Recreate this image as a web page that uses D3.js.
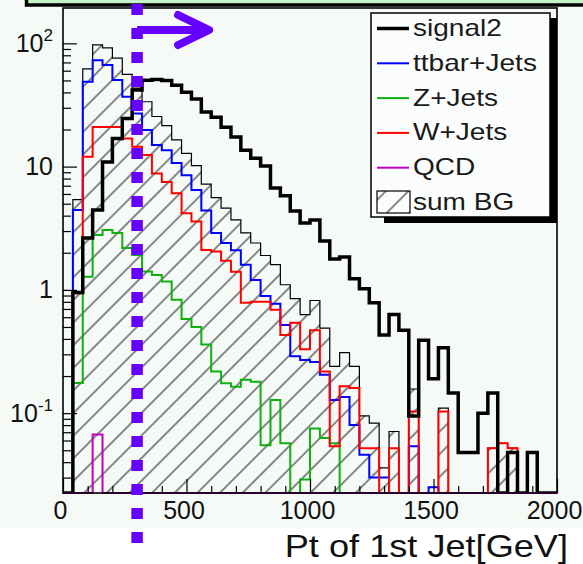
<!DOCTYPE html>
<html>
<head>
<meta charset="utf-8">
<script src="https://cdn.jsdelivr.net/npm/d3@7"></script>
<style>
  body { margin: 0; background: #fff; }
  svg { display: block; }
  text { font-family: "Liberation Sans", Arial, Helvetica, sans-serif; }
</style>
</head>
<body>
<div id="chart"></div>
<script>
// binning: 50 bins of 40 GeV, 0 - 2000
const binWidth = 40;
const xMax = 2000;
const cutPt = 300;

const signal2 = [0, 0.95, 2.64, 4.45, 10.9, 16.9, 24.6, 41.8, 50.3, 51, 50,
  45.8, 40.2, 35.3, 27.7, 25.2, 20.9, 17.4, 13.6, 11.7, 10.1,
  6.7, 5.8, 4.36, 3.49, 3.69, 2.49, 1.78, 1.85, 1.23, 1.02,
  0.785, 0.43, 0.63, 0.47, 0.095, 0.39, 0.19, 0.34, 0.146, 0.048,
  0.048, 0.10, 0.146, 0, 0.048, 0, 0.048, 0, 0];
const ttbarJets = [0, 4.45, 48.7, 73, 66.6, 50.4, 36.8, 27, 19.8, 15,
  13.6, 10.7, 8.5, 6.45, 4.4, 2.9, 2.4, 2.1, 1.6, 1.2,
  0.89, 0.77, 0.52, 0.29, 0.27, 0.26, 0.205, 0.128, 0.135, 0.08,
  0.046, 0.03, 0.03, 0.02, 0, 0.054, 0, 0.025, 0, 0,
  0, 0, 0, 0, 0, 0, 0, 0, 0, 0];
const zJets = [0, 0.176, 1.28, 2.79, 3.06, 2.9, 2.19, 1.92, 1.41, 1.32,
  1.17, 0.83, 0.58, 0.5, 0.36, 0.218, 0.175, 0.164, 0.187, 0.18,
  0.055, 0.128, 0.057, 0, 0.029, 0.075, 0.063, 0.057, 0, 0,
  0, 0, 0, 0, 0, 0, 0, 0, 0, 0,
  0, 0, 0, 0, 0, 0, 0, 0, 0, 0];
const wJets = [0, 0.94, 12.0, 21, 21, 21, 16.9, 14.5, 12.4, 8.8,
  7.5, 6.07, 4.18, 3.58, 2.11, 2.05, 1.72, 1.4, 0.785, 0.8,
  0.8, 0.69, 0.43, 0.54, 0.33, 0.47, 0.218, 0.054, 0.165, 0.16,
  0.052, 0.052, 0, 0.052, 0, 0.103, 0, 0, 0.103, 0,
  0, 0, 0, 0.052, 0.057, 0.052, 0, 0, 0, 0];
const qcd = [0, 0, 0, 0.067, 0, 0, 0, 0, 0, 0,
  0, 0, 0, 0, 0, 0, 0, 0, 0, 0,
  0, 0, 0, 0, 0, 0, 0, 0, 0, 0,
  0, 0, 0, 0, 0, 0, 0, 0, 0, 0,
  0, 0, 0, 0, 0, 0, 0, 0, 0, 0];
const sumBG = [0, 5.4, 62, 97, 92, 76, 56, 43.4, 33.6, 25.5,
  21.5, 16.5, 12.8, 10.2, 7.2, 5.6, 4.6, 3.7, 2.9, 2.4,
  1.9, 1.6, 1.1, 0.85, 0.63, 0.82, 0.49, 0.24, 0.31, 0.24,
  0.095, 0.083, 0.036, 0.071, 0, 0.157, 0, 0.025, 0.11, 0,
  0, 0, 0, 0.052, 0.057, 0.052, 0, 0, 0, 0];

const xMajorTicks = [0, 500, 1000, 1500, 2000];
const yMajorTicks = [0.1, 1, 10, 100];
const yLabels = [['10', '-1'], ['1', ''], ['10', ''], ['10', '2']];
const legendLabels = ['signal2', 'ttbar+Jets', 'Z+Jets', 'W+Jets', 'QCD', 'sum BG'];

const chartWidth = 583;
const chartHeight = 564;
const frameLeft = 63, frameRight = 557, frameTop = 8, frameBottom = 493;
const purple = '#6600ff';

const svg = d3.select('#chart')
  .append('svg')
  .attr('width', chartWidth)
  .attr('height', chartHeight);

// backgrounds
svg.append('rect').attr('width', chartWidth).attr('height', chartHeight).attr('fill', '#ffffff');
svg.append('rect').attr('width', chartWidth).attr('height', 528).attr('fill', '#f5faf6');

// bottom of the title box (cut off at the top)
svg.append('rect')
  .attr('x', 26.5).attr('y', -40)
  .attr('width', 620).attr('height', 45)
  .attr('fill', '#c6f2c6')
  .attr('stroke', '#000')
  .attr('stroke-width', 3.5);

// Scales
const x = d3.scaleLinear().domain([0, xMax]).range([frameLeft, frameRight]);
const yLo = 0.0225;
const y = d3.scaleLog().domain([yLo, 193.5]).range([frameBottom, frameTop]);
const yv = v => (v > yLo ? y(v) : frameBottom);

// hatch pattern for sum BG
const defs = svg.append('defs');
defs.append('pattern')
  .attr('id', 'hatch')
  .attr('patternUnits', 'userSpaceOnUse')
  .attr('width', 16).attr('height', 16)
  .attr('patternTransform', 'rotate(-45)')
  .append('line')
  .attr('x1', 0).attr('x2', 16)
  .attr('y1', 8).attr('y2', 8)
  .attr('stroke', '#2a2a2a')
  .attr('stroke-width', 1.1);

defs.append('clipPath').attr('id', 'frameClip')
  .append('rect')
  .attr('x', frameLeft).attr('y', frameTop - 1)
  .attr('width', frameRight - frameLeft).attr('height', frameBottom - frameTop + 2);

// histogram outline as step line
const stepLine = d3.line()
  .x(d => x(d[0]))
  .y(d => yv(d[1]))
  .curve(d3.curveStepAfter);

function histPoints(vals) {
  const pts = [[0, 0]];
  vals.forEach((v, i) => pts.push([i * binWidth, v]));
  pts.push([vals.length * binWidth, vals[vals.length - 1]]);
  pts.push([vals.length * binWidth, 0]);
  return pts;
}

const plot = svg.append('g').attr('clip-path', 'url(#frameClip)');

const series = [
  { vals: sumBG, color: '#000', width: 1.2, fill: 'url(#hatch)' },
  { vals: ttbarJets, color: '#0000ff', width: 2, fill: 'none' },
  { vals: zJets, color: '#11b011', width: 2, fill: 'none' },
  { vals: wJets, color: '#ff0000', width: 2, fill: 'none' },
  { vals: signal2, color: '#000', width: 3.5, fill: 'none' },
  { vals: qcd, color: '#c000c0', width: 2, fill: 'none' }
];

plot.selectAll('path')
  .data(series)
  .enter()
  .append('path')
  .attr('d', d => stepLine(histPoints(d.vals)))
  .attr('fill', d => d.fill)
  .attr('stroke', d => d.color)
  .attr('stroke-width', d => d.width)
  .attr('stroke-linejoin', 'miter');

// frame
svg.append('rect')
  .attr('x', frameLeft).attr('y', frameTop)
  .attr('width', frameRight - frameLeft).attr('height', frameBottom - frameTop)
  .attr('fill', 'none')
  .attr('stroke', '#000')
  .attr('stroke-width', 1.6);

// X axis (ticks point inwards)
const xMinor = d3.range(100, xMax, 100).filter(v => v % 500 !== 0);
svg.append('g')
  .attr('transform', `translate(0,${frameBottom})`)
  .call(d3.axisBottom(x).tickValues(xMinor).tickSize(-7).tickFormat(''))
  .call(g => g.select('.domain').remove());
const xAxisG = svg.append('g')
  .attr('transform', `translate(0,${frameBottom})`)
  .call(d3.axisBottom(x).tickValues(xMajorTicks).tickSize(-14).tickPadding(8).tickFormat(d3.format('d')))
  .call(g => g.select('.domain').remove());
xAxisG.selectAll('text')
  .attr('dx', -3)
  .attr('font-size', 25)
  .attr('fill', '#111')
  .style('font-family', '"Liberation Sans", Arial, sans-serif');

// Y axis (log)
const yMinor = [];
[-2, -1, 0, 1, 2].forEach(e => {
  for (let k = 2; k <= 9; k++) {
    const v = k * Math.pow(10, e);
    if (v > yLo && v < 193.5) yMinor.push(v);
  }
});
svg.append('g')
  .attr('transform', `translate(${frameLeft},0)`)
  .call(d3.axisLeft(y).tickValues(yMinor).tickSize(-8).tickFormat(''))
  .call(g => g.select('.domain').remove());
const yAxisG = svg.append('g')
  .attr('transform', `translate(${frameLeft},0)`)
  .call(d3.axisLeft(y).tickValues(yMajorTicks).tickSize(-14).tickPadding(10))
  .call(g => g.select('.domain').remove());
yAxisG.selectAll('text')
  .attr('font-size', 25)
  .attr('fill', '#111')
  .style('font-family', '"Liberation Sans", Arial, sans-serif')
  .each(function (d, i) {
    const t = d3.select(this);
    t.text(null);
    t.append('tspan').text(yLabels[i][0]);
    if (yLabels[i][1]) {
      t.append('tspan')
        .attr('font-size', 17)
        .attr('dy', -11)
        .text(yLabels[i][1]);
    }
  });

svg.selectAll('.tick line').attr('stroke', '#000').attr('stroke-width', 1.2);

// cut line at 300 GeV and arrow
svg.append('line')
  .attr('x1', x(cutPt)).attr('x2', x(cutPt))
  .attr('y1', 4).attr('y2', 544)
  .attr('stroke', purple)
  .attr('stroke-width', 11.5)
  .attr('stroke-dasharray', '11,13');

const arrowEnd = x(cutPt) + 72;
svg.append('line')
  .attr('x1', x(cutPt)).attr('x2', arrowEnd - 2)
  .attr('y1', 30).attr('y2', 30)
  .attr('stroke', purple)
  .attr('stroke-width', 8);
svg.append('polyline')
  .attr('points', `${arrowEnd - 31},15 ${arrowEnd},30 ${arrowEnd - 31},45`)
  .attr('fill', 'none')
  .attr('stroke', purple)
  .attr('stroke-width', 8)
  .attr('stroke-linecap', 'round')
  .attr('stroke-linejoin', 'round');

// Legend
const legend = svg.append('g');
legend.append('rect')
  .attr('x', 550).attr('y', 18)
  .attr('width', 7).attr('height', 205)
  .attr('fill', '#000');
legend.append('rect')
  .attr('x', 384).attr('y', 217)
  .attr('width', 173).attr('height', 6)
  .attr('fill', '#000');
legend.append('rect')
  .attr('x', 371).attr('y', 13)
  .attr('width', 179).attr('height', 204)
  .attr('fill', '#fafdfb')
  .attr('stroke', '#000')
  .attr('stroke-width', 1.5);

const legendColors = ['#000', '#0000ff', '#11b011', '#ff0000', '#c000c0'];
const legendWidths = [3.5, 2, 2, 2, 2];

legend.selectAll('line.entry')
  .data(legendColors)
  .enter()
  .append('line')
  .attr('class', 'entry')
  .attr('x1', 377).attr('x2', 409)
  .attr('y1', (d, i) => 28.5 + i * 34.8)
  .attr('y2', (d, i) => 28.5 + i * 34.8)
  .attr('stroke', d => d)
  .attr('stroke-width', (d, i) => legendWidths[i]);

legend.append('rect')
  .attr('x', 377).attr('y', 191)
  .attr('width', 33).attr('height', 22)
  .attr('fill', 'url(#hatch)')
  .attr('stroke', '#000')
  .attr('stroke-width', 1.2);

legend.selectAll('text')
  .data(legendLabels)
  .enter()
  .append('text')
  .attr('transform', (d, i) => `translate(413,${36 + i * 34.8}) scale(1.22,1)`)
  .attr('font-size', 23)
  .attr('fill', '#1a1a1a')
  .text(d => d);

// X title
svg.append('text')
  .attr('transform', 'translate(568,557) scale(1.13,1)')
  .attr('text-anchor', 'end')
  .attr('font-size', 32)
  .attr('fill', '#111')
  .text('Pt of 1st Jet[GeV]');
</script>
</body>
</html>
